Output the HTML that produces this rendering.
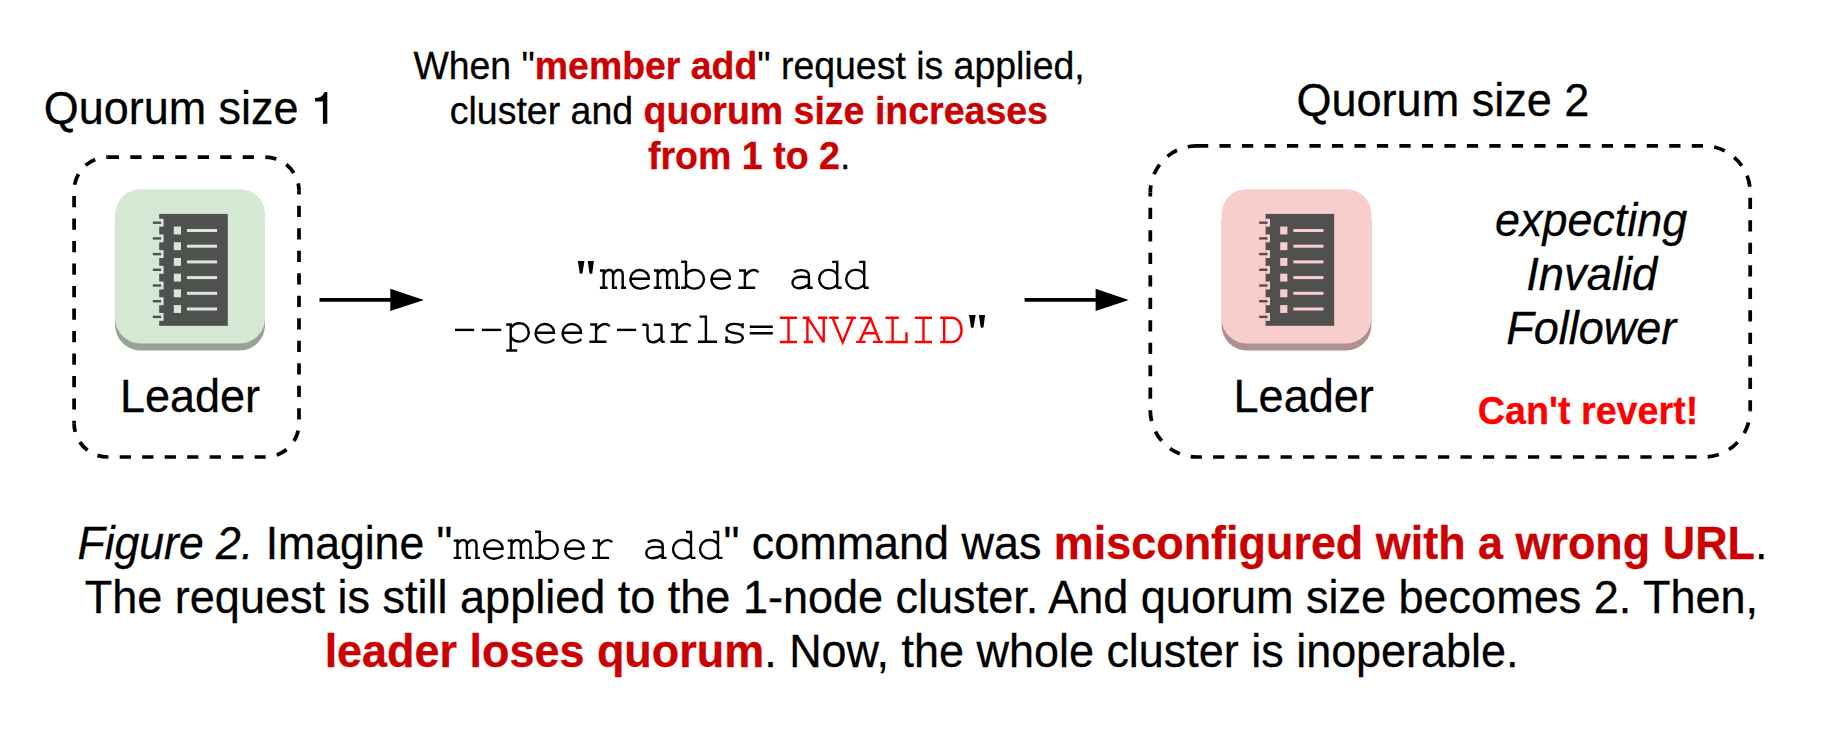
<!DOCTYPE html>
<html><head><meta charset="utf-8"><style>
html,body{margin:0;padding:0;background:#fff;}
svg{display:block;}
text{font-family:"Liberation Sans", sans-serif;}
</style></head><body>
<svg width="1832" height="738" viewBox="0 0 1832 738">
<rect x="0" y="0" width="1832" height="738" fill="#fff"/>
<path d="M107.80,157.10 L265.30,157.10" fill="none" stroke="#000" stroke-width="3.748" stroke-dasharray="11.244 11.244" stroke-dashoffset="0.000"/>
<path d="M265.30,157.10 A33.70,33.70 0 0 1 299.00,190.80" fill="none" stroke="#000" stroke-width="3.748" stroke-dasharray="11.356 11.356" stroke-dashoffset="0.085"/>
<path d="M299.00,190.80 L299.00,423.30" fill="none" stroke="#000" stroke-width="3.748" stroke-dasharray="11.244 11.244" stroke-dashoffset="7.520"/>
<path d="M299.00,423.30 A33.70,33.70 0 0 1 265.30,457.00" fill="none" stroke="#000" stroke-width="3.748" stroke-dasharray="11.249 11.249" stroke-dashoffset="15.146"/>
<path d="M265.30,457.00 L107.80,457.00" fill="none" stroke="#000" stroke-width="3.748" stroke-dasharray="11.244 11.244" stroke-dashoffset="0.590"/>
<path d="M107.80,457.00 A33.70,33.70 0 0 1 74.10,423.30" fill="none" stroke="#000" stroke-width="3.748" stroke-dasharray="11.207 11.207" stroke-dashoffset="0.672"/>
<path d="M74.10,423.30 L74.10,190.80" fill="none" stroke="#000" stroke-width="3.748" stroke-dasharray="11.244 11.244" stroke-dashoffset="8.810"/>
<path d="M74.10,190.80 A33.70,33.70 0 0 1 107.80,157.10" fill="none" stroke="#000" stroke-width="3.748" stroke-dasharray="11.287 11.287" stroke-dashoffset="16.493"/>
<path d="M1197.00,145.80 L1703.50,145.80" fill="none" stroke="#000" stroke-width="3.748" stroke-dasharray="11.244 11.244" stroke-dashoffset="0.000"/>
<path d="M1703.50,145.80 A46.70,46.70 0 0 1 1750.20,192.50" fill="none" stroke="#000" stroke-width="3.748" stroke-dasharray="11.316 11.316" stroke-dashoffset="11.839"/>
<path d="M1750.20,192.50 L1750.20,410.30" fill="none" stroke="#000" stroke-width="3.748" stroke-dasharray="11.244 11.244" stroke-dashoffset="17.190"/>
<path d="M1750.20,410.30 A46.70,46.70 0 0 1 1703.50,457.00" fill="none" stroke="#000" stroke-width="3.748" stroke-dasharray="11.306 11.306" stroke-dashoffset="10.166"/>
<path d="M1703.50,457.00 L1197.00,457.00" fill="none" stroke="#000" stroke-width="3.748" stroke-dasharray="11.244 11.244" stroke-dashoffset="15.600"/>
<path d="M1197.00,457.00 A46.70,46.70 0 0 1 1150.30,410.30" fill="none" stroke="#000" stroke-width="3.748" stroke-dasharray="11.201 11.201" stroke-dashoffset="4.857"/>
<path d="M1150.30,410.30 L1150.30,192.50" fill="none" stroke="#000" stroke-width="3.748" stroke-dasharray="11.244 11.244" stroke-dashoffset="11.050"/>
<path d="M1150.30,192.50 A46.70,46.70 0 0 1 1197.00,145.80" fill="none" stroke="#000" stroke-width="3.748" stroke-dasharray="11.315 11.315" stroke-dashoffset="3.995"/>
<rect x="115.20" y="196.20" width="149.80" height="154.20" rx="25" fill="#95A294"/>
<rect x="115.20" y="189.20" width="149.80" height="154.20" rx="25" fill="#D5E8D4"/>
<rect x="159.20" y="213.9" width="68.6" height="111.9" fill="#505050"/>
<rect x="159.00" y="218.75" width="4.6" height="7.9" fill="#D5E8D4"/>
<rect x="152.80" y="221.50" width="8.3" height="2.4" fill="#505050"/>
<rect x="159.00" y="234.45" width="4.6" height="7.9" fill="#D5E8D4"/>
<rect x="152.80" y="237.20" width="8.3" height="2.4" fill="#505050"/>
<rect x="159.00" y="250.15" width="4.6" height="7.9" fill="#D5E8D4"/>
<rect x="152.80" y="252.90" width="8.3" height="2.4" fill="#505050"/>
<rect x="159.00" y="265.85" width="4.6" height="7.9" fill="#D5E8D4"/>
<rect x="152.80" y="268.60" width="8.3" height="2.4" fill="#505050"/>
<rect x="159.00" y="281.55" width="4.6" height="7.9" fill="#D5E8D4"/>
<rect x="152.80" y="284.30" width="8.3" height="2.4" fill="#505050"/>
<rect x="159.00" y="297.25" width="4.6" height="7.9" fill="#D5E8D4"/>
<rect x="152.80" y="300.00" width="8.3" height="2.4" fill="#505050"/>
<rect x="159.00" y="312.95" width="4.6" height="7.9" fill="#D5E8D4"/>
<rect x="152.80" y="315.70" width="8.3" height="2.4" fill="#505050"/>
<rect x="173.80" y="226.55" width="7.2" height="7.9" fill="#D5E8D4"/>
<rect x="186.90" y="229.00" width="30.2" height="3.0" fill="#D5E8D4"/>
<rect x="173.80" y="242.25" width="7.2" height="7.9" fill="#D5E8D4"/>
<rect x="186.90" y="244.70" width="30.2" height="3.0" fill="#D5E8D4"/>
<rect x="173.80" y="257.95" width="7.2" height="7.9" fill="#D5E8D4"/>
<rect x="186.90" y="260.40" width="30.2" height="3.0" fill="#D5E8D4"/>
<rect x="173.80" y="273.65" width="7.2" height="7.9" fill="#D5E8D4"/>
<rect x="186.90" y="276.10" width="30.2" height="3.0" fill="#D5E8D4"/>
<rect x="173.80" y="289.35" width="7.2" height="7.9" fill="#D5E8D4"/>
<rect x="186.90" y="291.80" width="30.2" height="3.0" fill="#D5E8D4"/>
<rect x="173.80" y="305.05" width="7.2" height="7.9" fill="#D5E8D4"/>
<rect x="186.90" y="307.50" width="30.2" height="3.0" fill="#D5E8D4"/>
<rect x="1221.60" y="196.20" width="149.80" height="154.20" rx="25" fill="#AE908F"/>
<rect x="1221.60" y="189.20" width="149.80" height="154.20" rx="25" fill="#F8CECC"/>
<rect x="1265.60" y="213.9" width="68.6" height="111.9" fill="#505050"/>
<rect x="1265.40" y="218.75" width="4.6" height="7.9" fill="#F8CECC"/>
<rect x="1259.20" y="221.50" width="8.3" height="2.4" fill="#505050"/>
<rect x="1265.40" y="234.45" width="4.6" height="7.9" fill="#F8CECC"/>
<rect x="1259.20" y="237.20" width="8.3" height="2.4" fill="#505050"/>
<rect x="1265.40" y="250.15" width="4.6" height="7.9" fill="#F8CECC"/>
<rect x="1259.20" y="252.90" width="8.3" height="2.4" fill="#505050"/>
<rect x="1265.40" y="265.85" width="4.6" height="7.9" fill="#F8CECC"/>
<rect x="1259.20" y="268.60" width="8.3" height="2.4" fill="#505050"/>
<rect x="1265.40" y="281.55" width="4.6" height="7.9" fill="#F8CECC"/>
<rect x="1259.20" y="284.30" width="8.3" height="2.4" fill="#505050"/>
<rect x="1265.40" y="297.25" width="4.6" height="7.9" fill="#F8CECC"/>
<rect x="1259.20" y="300.00" width="8.3" height="2.4" fill="#505050"/>
<rect x="1265.40" y="312.95" width="4.6" height="7.9" fill="#F8CECC"/>
<rect x="1259.20" y="315.70" width="8.3" height="2.4" fill="#505050"/>
<rect x="1280.20" y="226.55" width="7.2" height="7.9" fill="#F8CECC"/>
<rect x="1293.30" y="229.00" width="30.2" height="3.0" fill="#F8CECC"/>
<rect x="1280.20" y="242.25" width="7.2" height="7.9" fill="#F8CECC"/>
<rect x="1293.30" y="244.70" width="30.2" height="3.0" fill="#F8CECC"/>
<rect x="1280.20" y="257.95" width="7.2" height="7.9" fill="#F8CECC"/>
<rect x="1293.30" y="260.40" width="30.2" height="3.0" fill="#F8CECC"/>
<rect x="1280.20" y="273.65" width="7.2" height="7.9" fill="#F8CECC"/>
<rect x="1293.30" y="276.10" width="30.2" height="3.0" fill="#F8CECC"/>
<rect x="1280.20" y="289.35" width="7.2" height="7.9" fill="#F8CECC"/>
<rect x="1293.30" y="291.80" width="30.2" height="3.0" fill="#F8CECC"/>
<rect x="1280.20" y="305.05" width="7.2" height="7.9" fill="#F8CECC"/>
<rect x="1293.30" y="307.50" width="30.2" height="3.0" fill="#F8CECC"/>
<line x1="319.50" y1="299.90" x2="391.30" y2="299.90" stroke="#000" stroke-width="3.748"/><path d="M390.30,288.85 L423.90,299.90 L390.30,310.95 Z" fill="#000"/>
<line x1="1024.60" y1="299.90" x2="1096.60" y2="299.90" stroke="#000" stroke-width="3.748"/><path d="M1095.60,288.85 L1128.70,299.90 L1095.60,310.95 Z" fill="#000"/>
<text transform="translate(43.78,124.00) scale(1,0.9900)" x="0" y="0" font-size="46.50" xml:space="preserve" textLength="254.68" lengthAdjust="spacingAndGlyphs" stroke-width="0.3"><tspan font-family="'Liberation Sans', sans-serif" font-weight="normal" font-style="normal" fill="#000000" stroke="#000000">Quorum size</tspan></text>
<text transform="translate(1296.41,115.80) scale(1,0.9900)" x="0" y="0" font-size="46.50" xml:space="preserve" textLength="293.00" lengthAdjust="spacingAndGlyphs" stroke-width="0.3"><tspan font-family="'Liberation Sans', sans-serif" font-weight="normal" font-style="normal" fill="#000000" stroke="#000000">Quorum size 2</tspan></text>
<text transform="translate(119.98,411.90) scale(1,0.9900)" x="0" y="0" font-size="46.50" xml:space="preserve" textLength="140.03" lengthAdjust="spacingAndGlyphs" stroke-width="0.3"><tspan font-family="'Liberation Sans', sans-serif" font-weight="normal" font-style="normal" fill="#000000" stroke="#000000">Leader</tspan></text>
<text transform="translate(1233.55,411.90) scale(1,0.9900)" x="0" y="0" font-size="46.50" xml:space="preserve" textLength="140.20" lengthAdjust="spacingAndGlyphs" stroke-width="0.3"><tspan font-family="'Liberation Sans', sans-serif" font-weight="normal" font-style="normal" fill="#000000" stroke="#000000">Leader</tspan></text>
<text transform="translate(413.39,78.90) scale(1,0.9900)" x="0" y="0" font-size="38.80" xml:space="preserve" textLength="671.30" lengthAdjust="spacingAndGlyphs" stroke-width="0.3"><tspan font-family="'Liberation Sans', sans-serif" font-weight="normal" font-style="normal" fill="#000000" stroke="#000000">When "</tspan><tspan font-family="'Liberation Sans', sans-serif" font-weight="bold" font-style="normal" fill="#CC0000" stroke="#CC0000">member add</tspan><tspan font-family="'Liberation Sans', sans-serif" font-weight="normal" font-style="normal" fill="#000000" stroke="#000000">" request is applied,</tspan></text>
<text transform="translate(449.72,123.90) scale(1,0.9900)" x="0" y="0" font-size="38.80" xml:space="preserve" textLength="598.27" lengthAdjust="spacingAndGlyphs" stroke-width="0.3"><tspan font-family="'Liberation Sans', sans-serif" font-weight="normal" font-style="normal" fill="#000000" stroke="#000000">cluster and </tspan><tspan font-family="'Liberation Sans', sans-serif" font-weight="bold" font-style="normal" fill="#CC0000" stroke="#CC0000">quorum size increases</tspan></text>
<text transform="translate(648.00,168.90) scale(1,0.9900)" x="0" y="0" font-size="38.80" xml:space="preserve" textLength="202.39" lengthAdjust="spacingAndGlyphs" stroke-width="0.3"><tspan font-family="'Liberation Sans', sans-serif" font-weight="bold" font-style="normal" fill="#CC0000" stroke="#CC0000">from 1 to 2</tspan><tspan font-family="'Liberation Sans', sans-serif" font-weight="normal" font-style="normal" fill="#000000" stroke="#000000">.</tspan></text>
<text transform="translate(1495.12,235.90) scale(1,0.9900)" x="0" y="0" font-size="46.50" xml:space="preserve" textLength="191.99" lengthAdjust="spacingAndGlyphs" stroke-width="0.3"><tspan font-family="'Liberation Sans', sans-serif" font-weight="normal" font-style="italic" fill="#000000" stroke="#000000">expecting</tspan></text>
<text transform="translate(1526.25,289.90) scale(1,0.9900)" x="0" y="0" font-size="46.50" xml:space="preserve" textLength="131.06" lengthAdjust="spacingAndGlyphs" stroke-width="0.3"><tspan font-family="'Liberation Sans', sans-serif" font-weight="normal" font-style="italic" fill="#000000" stroke="#000000">Invalid</tspan></text>
<text transform="translate(1506.31,343.90) scale(1,0.9900)" x="0" y="0" font-size="46.50" xml:space="preserve" textLength="170.02" lengthAdjust="spacingAndGlyphs" stroke-width="0.3"><tspan font-family="'Liberation Sans', sans-serif" font-weight="normal" font-style="italic" fill="#000000" stroke="#000000">Follower</tspan></text>
<text transform="translate(1477.87,424.00) scale(1,0.9900)" x="0" y="0" font-size="38.80" xml:space="preserve" textLength="220.39" lengthAdjust="spacingAndGlyphs" stroke-width="0.3"><tspan font-family="'Liberation Sans', sans-serif" font-weight="bold" font-style="normal" fill="#FF0000" stroke="#FF0000">Can't revert!</tspan></text>
<text transform="translate(77.45,559.00) scale(1,0.9900)" x="0" y="0" font-size="46.50" xml:space="preserve" textLength="374.93" lengthAdjust="spacingAndGlyphs" stroke-width="0.3"><tspan font-family="'Liberation Sans', sans-serif" font-weight="normal" font-style="italic" fill="#000000" stroke="#000000">Figure 2.</tspan><tspan font-family="'Liberation Sans', sans-serif" font-weight="normal" font-style="normal" fill="#000000" stroke="#000000"> Imagine "</tspan></text>
<text transform="translate(723.44,559.00) scale(1,0.9900)" x="0" y="0" font-size="46.50" xml:space="preserve" textLength="1044.07" lengthAdjust="spacingAndGlyphs" stroke-width="0.3"><tspan font-family="'Liberation Sans', sans-serif" font-weight="normal" font-style="normal" fill="#000000" stroke="#000000">" command was </tspan><tspan font-family="'Liberation Sans', sans-serif" font-weight="bold" font-style="normal" fill="#CC0000" stroke="#CC0000">misconfigured with a wrong URL</tspan><tspan font-family="'Liberation Sans', sans-serif" font-weight="normal" font-style="normal" fill="#000000" stroke="#000000">.</tspan></text>
<text transform="translate(84.76,613.10) scale(1,0.9900)" x="0" y="0" font-size="46.50" xml:space="preserve" textLength="1673.31" lengthAdjust="spacingAndGlyphs" stroke-width="0.3"><tspan font-family="'Liberation Sans', sans-serif" font-weight="normal" font-style="normal" fill="#000000" stroke="#000000">The request is still applied to the 1-node cluster. And quorum size becomes 2. Then,</tspan></text>
<text transform="translate(324.63,667.00) scale(1,0.9900)" x="0" y="0" font-size="46.50" xml:space="preserve" textLength="1193.90" lengthAdjust="spacingAndGlyphs" stroke-width="0.3"><tspan font-family="'Liberation Sans', sans-serif" font-weight="bold" font-style="normal" fill="#CC0000" stroke="#CC0000">leader loses quorum</tspan><tspan font-family="'Liberation Sans', sans-serif" font-weight="normal" font-style="normal" fill="#000000" stroke="#000000">. Now, the whole cluster is inoperable.</tspan></text>
<path transform="translate(572.60,288.80)" fill="#000" d="M5.3,-27.7 L11.8,-27.7 L9.9,-15.6 Q8.5,-14.6 7.1,-15.6 Z M15.1,-27.7 L21.3,-27.7 L19.7,-15.6 Q18.3,-14.6 16.9,-15.6 Z"/>
<path transform="translate(599.60,288.80)" fill="none" stroke="#000" stroke-width="2.4" d="M0.3,-18.3 H4.1 M4.1,-19.6 V-1 M0.3,-1 H7.9 M4.1,-14.3 C5.5,-17.4 7.4,-18.8 9.6,-18.8 C12.1,-18.8 13.5,-17.2 13.5,-14.2 V-1 M12.3,-1 H17.4 M13.5,-14.3 C14.9,-17.4 16.8,-18.8 19.0,-18.8 C21.6,-18.8 23.1,-17.2 23.1,-14.2 V-1 M21.5,-1 H26.4"/>
<path transform="translate(626.60,288.80)" fill="none" stroke="#000" stroke-width="2.4" d="M3.8,-10.1 H22.2 C22.2,-15.2 18.1,-18.8 13.0,-18.8 C7.9,-18.8 3.8,-14.6 3.8,-9.5 C3.8,-4.3 7.9,-0.2 13.4,-0.2 C16.9,-0.2 19.9,-1.3 22.5,-3.7"/>
<path transform="translate(653.60,288.80)" fill="none" stroke="#000" stroke-width="2.4" d="M0.3,-18.3 H4.1 M4.1,-19.6 V-1 M0.3,-1 H7.9 M4.1,-14.3 C5.5,-17.4 7.4,-18.8 9.6,-18.8 C12.1,-18.8 13.5,-17.2 13.5,-14.2 V-1 M12.3,-1 H17.4 M13.5,-14.3 C14.9,-17.4 16.8,-18.8 19.0,-18.8 C21.6,-18.8 23.1,-17.2 23.1,-14.2 V-1 M21.5,-1 H26.4"/>
<path transform="translate(680.60,288.80)" fill="none" stroke="#000" stroke-width="2.4" d="M0.6,-27.1 H5.4 M5.4,-28.1 V-1 M0.6,-1 H5.4 M5.4,-14.2 C7.0,-17.2 10.0,-18.8 14.4,-18.8 C19.4,-18.8 23.4,-14.6 23.4,-9.5 C23.4,-4.4 19.4,-0.2 14.4,-0.2 C10.0,-0.2 7.0,-1.9 5.4,-4.8"/>
<path transform="translate(707.60,288.80)" fill="none" stroke="#000" stroke-width="2.4" d="M3.8,-10.1 H22.2 C22.2,-15.2 18.1,-18.8 13.0,-18.8 C7.9,-18.8 3.8,-14.6 3.8,-9.5 C3.8,-4.3 7.9,-0.2 13.4,-0.2 C16.9,-0.2 19.9,-1.3 22.5,-3.7"/>
<path transform="translate(734.60,288.80)" fill="none" stroke="#000" stroke-width="2.4" d="M4.4,-18.3 H10.3 M10.3,-19.6 V-1 M3.6,-1 H20.6 M10.3,-12.3 C12.8,-16.4 16.0,-18.8 19.3,-18.8 C21.2,-18.8 22.7,-18.0 23.9,-16.6"/>
<path transform="translate(788.60,288.80)" fill="none" stroke="#000" stroke-width="2.4" d="M5.4,-16.6 C7.5,-18.0 10.0,-18.7 12.6,-18.7 C17.3,-18.7 20.3,-16.6 20.3,-13.0 V-1 M18.8,-1 H24.1 M20.3,-11.2 C17.6,-11.8 15.0,-12.0 12.5,-12.0 C7.0,-12.0 3.9,-9.3 3.9,-6.0 C3.9,-2.8 6.5,-0.6 10.0,-0.6 C14.0,-0.6 17.5,-2.4 20.3,-4.6"/>
<path transform="translate(815.60,288.80)" fill="none" stroke="#000" stroke-width="2.4" d="M16.6,-26.9 H21.6 M21.6,-28.1 V-1 M21.6,-1 H26.1 M21.6,-14.2 C20.0,-17.2 17.0,-18.9 12.6,-18.9 C7.6,-18.9 3.6,-14.7 3.6,-9.6 C3.6,-4.5 7.6,-0.3 12.6,-0.3 C17.0,-0.3 20.0,-2.1 21.6,-4.8"/>
<path transform="translate(842.60,288.80)" fill="none" stroke="#000" stroke-width="2.4" d="M16.6,-26.9 H21.6 M21.6,-28.1 V-1 M21.6,-1 H26.1 M21.6,-14.2 C20.0,-17.2 17.0,-18.9 12.6,-18.9 C7.6,-18.9 3.6,-14.7 3.6,-9.6 C3.6,-4.5 7.6,-0.3 12.6,-0.3 C17.0,-0.3 20.0,-2.1 21.6,-4.8"/>
<path transform="translate(450.80,342.80)" fill="none" stroke="#000" stroke-width="2.4" d="M4.2,-12.9 H23.4"/>
<path transform="translate(477.80,342.80)" fill="none" stroke="#000" stroke-width="2.4" d="M4.2,-12.9 H23.4"/>
<path transform="translate(504.80,342.80)" fill="none" stroke="#000" stroke-width="2.4" d="M1.4,-18.3 H5.9 M5.9,-19.6 V7.7 M1.4,7.7 H12.4 M5.9,-14.6 C7.6,-17.7 10.6,-19.6 15.0,-19.6 C20.0,-19.6 24.0,-15.5 24.0,-10.4 C24.0,-5.3 20.0,-1.2 15.0,-1.2 C10.6,-1.2 7.6,-3.1 5.9,-6.2"/>
<path transform="translate(531.80,342.80)" fill="none" stroke="#000" stroke-width="2.4" d="M3.8,-10.1 H22.2 C22.2,-15.2 18.1,-18.8 13.0,-18.8 C7.9,-18.8 3.8,-14.6 3.8,-9.5 C3.8,-4.3 7.9,-0.2 13.4,-0.2 C16.9,-0.2 19.9,-1.3 22.5,-3.7"/>
<path transform="translate(558.80,342.80)" fill="none" stroke="#000" stroke-width="2.4" d="M3.8,-10.1 H22.2 C22.2,-15.2 18.1,-18.8 13.0,-18.8 C7.9,-18.8 3.8,-14.6 3.8,-9.5 C3.8,-4.3 7.9,-0.2 13.4,-0.2 C16.9,-0.2 19.9,-1.3 22.5,-3.7"/>
<path transform="translate(585.80,342.80)" fill="none" stroke="#000" stroke-width="2.4" d="M4.4,-18.3 H10.3 M10.3,-19.6 V-1 M3.6,-1 H20.6 M10.3,-12.3 C12.8,-16.4 16.0,-18.8 19.3,-18.8 C21.2,-18.8 22.7,-18.0 23.9,-16.6"/>
<path transform="translate(612.80,342.80)" fill="none" stroke="#000" stroke-width="2.4" d="M4.2,-12.9 H23.4"/>
<path transform="translate(639.80,342.80)" fill="none" stroke="#000" stroke-width="2.4" d="M2.5,-18.1 H7.7 M7.7,-18.1 V-6.6 C7.7,-2.8 9.8,-0.6 13.2,-0.6 C16.8,-0.6 19.7,-2.7 21.7,-5.8 M14.0,-18.1 H21.7 M21.7,-18.1 V-1 M21.7,-1 H24.9"/>
<path transform="translate(666.80,342.80)" fill="none" stroke="#000" stroke-width="2.4" d="M4.4,-18.3 H10.3 M10.3,-19.6 V-1 M3.6,-1 H20.6 M10.3,-12.3 C12.8,-16.4 16.0,-18.8 19.3,-18.8 C21.2,-18.8 22.7,-18.0 23.9,-16.6"/>
<path transform="translate(693.80,342.80)" fill="none" stroke="#000" stroke-width="2.4" d="M5.8,-26.2 H12.1 M12.1,-27.4 V-1 M4.2,-1 H23.3"/>
<path transform="translate(720.80,342.80)" fill="none" stroke="#000" stroke-width="2.4" d="M21.8,-16.9 C19.8,-18.3 17.0,-18.9 14.0,-18.9 C8.7,-18.9 5.8,-16.8 5.8,-14.2 C5.8,-11.1 9.5,-10.3 13.5,-9.8 C18.6,-9.2 22.0,-8.2 22.0,-5.0 C22.0,-2.0 18.7,-0.3 13.8,-0.3 C10.5,-0.3 7.6,-1.0 5.7,-2.6 M21.8,-19.6 V-14.6 M5.7,-6.2 V0.2"/>
<path transform="translate(747.80,342.80)" fill="none" stroke="#000" stroke-width="2.4" d="M2.0,-16.1 H25.0 M2.0,-9.6 H25.0"/>
<path transform="translate(774.80,342.80)" fill="none" stroke="#FF0000" stroke-width="2.4" d="M5.1,-25.0 H22.2 M13.7,-25.0 V-0.8 M5.1,-0.8 H22.2"/>
<path transform="translate(801.80,342.80)" fill="none" stroke="#FF0000" stroke-width="2.4" d="M0.9,-25.0 H7.8 M5.6,-25.0 V-0.8 M1.8,-0.8 H11.4 M6.0,-25.0 L22.0,-0.4 M16.2,-25.0 H25.6 M21.9,-25.0 V-0.2"/>
<path transform="translate(828.80,342.80)" fill="none" stroke="#FF0000" stroke-width="2.4" d="M0.4,-25.0 H10.0 M17.5,-25.0 H27.1 M3.7,-25.0 L13.9,-0.4 L24.1,-25.0"/>
<path transform="translate(855.80,342.80)" fill="none" stroke="#FF0000" stroke-width="2.4" d="M4.5,-24.8 H15.6 M15.0,-24.8 L3.6,-0.9 M14.6,-24.8 L24.0,-0.9 M7.9,-9.5 H20.2 M0.3,-0.9 H9.9 M17.1,-0.9 H27.1"/>
<path transform="translate(882.80,342.80)" fill="none" stroke="#FF0000" stroke-width="2.4" d="M2.7,-25.0 H16.1 M9.8,-25.0 V-0.8 M2.7,-0.8 H24.9 M23.7,-10.6 V-0.8"/>
<path transform="translate(909.80,342.80)" fill="none" stroke="#FF0000" stroke-width="2.4" d="M5.1,-25.0 H22.2 M13.7,-25.0 V-0.8 M5.1,-0.8 H22.2"/>
<path transform="translate(936.80,342.80)" fill="none" stroke="#FF0000" stroke-width="2.4" d="M3.4,-25.0 H14.6 C20.9,-25.0 24.7,-19.8 24.7,-12.9 C24.7,-6.0 20.9,-0.8 14.6,-0.8 H3.4 M7.4,-25.0 V-0.8"/>
<path transform="translate(963.80,342.80)" fill="#000" d="M5.3,-27.7 L11.8,-27.7 L9.9,-15.6 Q8.5,-14.6 7.1,-15.6 Z M15.1,-27.7 L21.3,-27.7 L19.7,-15.6 Q18.3,-14.6 16.9,-15.6 Z"/>
<path transform="translate(453.40,558.90)" fill="none" stroke="#000" stroke-width="2.4" d="M0.3,-18.3 H4.1 M4.1,-19.6 V-1 M0.3,-1 H7.9 M4.1,-14.3 C5.5,-17.4 7.4,-18.8 9.6,-18.8 C12.1,-18.8 13.5,-17.2 13.5,-14.2 V-1 M12.3,-1 H17.4 M13.5,-14.3 C14.9,-17.4 16.8,-18.8 19.0,-18.8 C21.6,-18.8 23.1,-17.2 23.1,-14.2 V-1 M21.5,-1 H26.4"/>
<path transform="translate(480.40,558.90)" fill="none" stroke="#000" stroke-width="2.4" d="M3.8,-10.1 H22.2 C22.2,-15.2 18.1,-18.8 13.0,-18.8 C7.9,-18.8 3.8,-14.6 3.8,-9.5 C3.8,-4.3 7.9,-0.2 13.4,-0.2 C16.9,-0.2 19.9,-1.3 22.5,-3.7"/>
<path transform="translate(507.40,558.90)" fill="none" stroke="#000" stroke-width="2.4" d="M0.3,-18.3 H4.1 M4.1,-19.6 V-1 M0.3,-1 H7.9 M4.1,-14.3 C5.5,-17.4 7.4,-18.8 9.6,-18.8 C12.1,-18.8 13.5,-17.2 13.5,-14.2 V-1 M12.3,-1 H17.4 M13.5,-14.3 C14.9,-17.4 16.8,-18.8 19.0,-18.8 C21.6,-18.8 23.1,-17.2 23.1,-14.2 V-1 M21.5,-1 H26.4"/>
<path transform="translate(534.40,558.90)" fill="none" stroke="#000" stroke-width="2.4" d="M0.6,-27.1 H5.4 M5.4,-28.1 V-1 M0.6,-1 H5.4 M5.4,-14.2 C7.0,-17.2 10.0,-18.8 14.4,-18.8 C19.4,-18.8 23.4,-14.6 23.4,-9.5 C23.4,-4.4 19.4,-0.2 14.4,-0.2 C10.0,-0.2 7.0,-1.9 5.4,-4.8"/>
<path transform="translate(561.40,558.90)" fill="none" stroke="#000" stroke-width="2.4" d="M3.8,-10.1 H22.2 C22.2,-15.2 18.1,-18.8 13.0,-18.8 C7.9,-18.8 3.8,-14.6 3.8,-9.5 C3.8,-4.3 7.9,-0.2 13.4,-0.2 C16.9,-0.2 19.9,-1.3 22.5,-3.7"/>
<path transform="translate(588.40,558.90)" fill="none" stroke="#000" stroke-width="2.4" d="M4.4,-18.3 H10.3 M10.3,-19.6 V-1 M3.6,-1 H20.6 M10.3,-12.3 C12.8,-16.4 16.0,-18.8 19.3,-18.8 C21.2,-18.8 22.7,-18.0 23.9,-16.6"/>
<path transform="translate(642.40,558.90)" fill="none" stroke="#000" stroke-width="2.4" d="M5.4,-16.6 C7.5,-18.0 10.0,-18.7 12.6,-18.7 C17.3,-18.7 20.3,-16.6 20.3,-13.0 V-1 M18.8,-1 H24.1 M20.3,-11.2 C17.6,-11.8 15.0,-12.0 12.5,-12.0 C7.0,-12.0 3.9,-9.3 3.9,-6.0 C3.9,-2.8 6.5,-0.6 10.0,-0.6 C14.0,-0.6 17.5,-2.4 20.3,-4.6"/>
<path transform="translate(669.40,558.90)" fill="none" stroke="#000" stroke-width="2.4" d="M16.6,-26.9 H21.6 M21.6,-28.1 V-1 M21.6,-1 H26.1 M21.6,-14.2 C20.0,-17.2 17.0,-18.9 12.6,-18.9 C7.6,-18.9 3.6,-14.7 3.6,-9.6 C3.6,-4.5 7.6,-0.3 12.6,-0.3 C17.0,-0.3 20.0,-2.1 21.6,-4.8"/>
<path transform="translate(696.40,558.90)" fill="none" stroke="#000" stroke-width="2.4" d="M16.6,-26.9 H21.6 M21.6,-28.1 V-1 M21.6,-1 H26.1 M21.6,-14.2 C20.0,-17.2 17.0,-18.9 12.6,-18.9 C7.6,-18.9 3.6,-14.7 3.6,-9.6 C3.6,-4.5 7.6,-0.3 12.6,-0.3 C17.0,-0.3 20.0,-2.1 21.6,-4.8"/>
<path d="M324.5,92.0 L327.3,92.0 L327.3,123.8 L322.9,123.8 L322.9,101.6 L315.1,101.6 L315.1,97.9 C318.6,97.9 321.6,97.0 322.9,95.0 Z" fill="#000"/>
</svg>
</body></html>
